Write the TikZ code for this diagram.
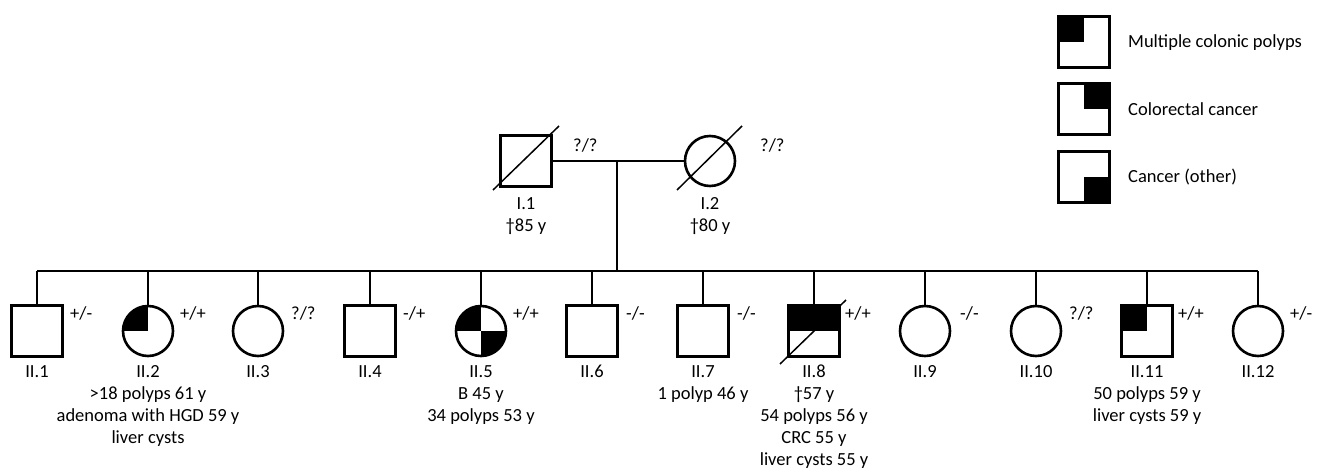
\documentclass[tikz,border=0pt]{standalone}
\usepackage{fontspec}
\setmainfont{Carlito}
\begin{document}
\begin{tikzpicture}[x=1pt,y=-1pt,
  male/.style={draw, rectangle, line width=2.6pt, minimum size=50.5pt, inner sep=0pt},
  female/.style={draw, circle, line width=2.6pt, minimum size=50pt, inner sep=0pt},
  gt/.style={anchor=west, inner sep=0pt, font=\fontsize{18.5}{20}\selectfont},
  lab/.style={anchor=north, align=center, inner sep=0pt, font=\fontsize{18.5}{22}\selectfont},
  leg/.style={anchor=west, inner sep=0pt, font=\fontsize{18.5}{20}\selectfont},
  conn/.style={line width=1.5pt},
  dead/.style={line width=1.5pt}]
\useasboundingbox (0,0) rectangle (1321,469);

% Generation I
\node[male] (I1) at (526,161) {};
\node[female] (I2) at (710,161) {};
\draw[dead] (493,190) -- (559,126);
\draw[dead] (677,190) -- (742,126);
\node[gt] (gI1) at (573,145) {?/?};
\node[gt] (gI2) at (760,145) {?/?};
\node[lab] (lI1) at (526,197) {I.1\\†85 y};
\node[lab] (lI2) at (710,197) {I.2\\†80 y};

\coordinate (mid) at (617,161);
\coordinate (sib) at (617,271);
\draw[conn] (I1.east) -- (I2.west);
\draw[conn] (mid) -- (sib);

% Generation II
\node[male]   (II1)  at (37,331) {};
\node[female] (II2)  at (148,331) {};
\node[female] (II3)  at (258,331) {};
\node[male]   (II4)  at (370,331) {};
\node[female] (II5)  at (481,331) {};
\node[male]   (II6)  at (592,331) {};
\node[male]   (II7)  at (703,331) {};
\node[male]   (II8)  at (814,331) {};
\node[female] (II9)  at (925,331) {};
\node[female] (II10) at (1036,331) {};
\node[male]   (II11) at (1147,331) {};
\node[female] (II12) at (1258,331) {};

% fills
\begin{scope}
  \clip (II2.center) circle (25pt);
  \fill (II2.center) rectangle ++(-30,-30);
\end{scope}
\begin{scope}
  \clip (II5.center) circle (25pt);
  \fill (II5.center) rectangle ++(-30,-30);
  \fill (II5.center) rectangle ++(30,30);
\end{scope}
\fill (II8.north west) rectangle (II8.east);
\fill (II11.north west) rectangle (II11.center);
\draw[dead] (780,364) -- (846,300);

% sibship
\draw[conn] (II1.north |- sib) -- (II12.north |- sib);
\foreach \n in {II1,II2,II3,II4,II5,II6,II7,II8,II9,II10,II11,II12}
  \draw[conn] (\n.north) -- (\n.north |- sib);

% genotypes
\node[gt] (g1)  at (70,313)   {+/-};
\node[gt] (g2)  at (180,313)  {+/+};
\node[gt] (g3)  at (291,313)  {?/?};
\node[gt] (g4)  at (403,313)  {-/+};
\node[gt] (g5)  at (513,313)  {+/+};
\node[gt] (g6)  at (626,313)  {-/-};
\node[gt] (g7)  at (737,313)  {-/-};
\node[gt] (g8)  at (845,313)  {+/+};
\node[gt] (g9)  at (960,313)  {-/-};
\node[gt] (g10) at (1069,313) {?/?};
\node[gt] (g11) at (1178,313) {+/+};
\node[gt] (g12) at (1290,313) {+/-};

% labels
\node[lab] (l1)  at (37,365)   {II.1};
\node[lab] (l2)  at (148,365)  {II.2\\>18 polyps 61 y\\adenoma with HGD 59 y\\liver cysts};
\node[lab] (l3)  at (258,365)  {II.3};
\node[lab] (l4)  at (370,365)  {II.4};
\node[lab] (l5)  at (481,365)  {II.5\\B 45 y\\34 polyps 53 y};
\node[lab] (l6)  at (592,365)  {II.6};
\node[lab] (l7)  at (703,365)  {II.7\\1 polyp 46 y};
\node[lab] (l8)  at (814,365)  {II.8\\†57 y\\54 polyps 56 y\\CRC 55 y\\liver cysts 55 y};
\node[lab] (l9)  at (925,365)  {II.9};
\node[lab] (l10) at (1036,365) {II.10};
\node[lab] (l11) at (1147,365) {II.11\\50 polyps 59 y\\liver cysts 59 y};
\node[lab] (l12) at (1258,365) {II.12};

% legend
\node[male] (L1) at (1084,42) {};
\node[male] (L2) at (1084,109) {};
\node[male] (L3) at (1084,177) {};
\fill (L1.north west) rectangle (L1.center);
\fill (L2.north east) rectangle (L2.center);
\fill (L3.south east) rectangle (L3.center);
\node[leg] (t1) at (1128,43)  {Multiple colonic polyps};
\node[leg] (t2) at (1128,109) {Colorectal cancer};
\node[leg] (t3) at (1128,177) {Cancer (other)};
\end{tikzpicture}
\end{document}
